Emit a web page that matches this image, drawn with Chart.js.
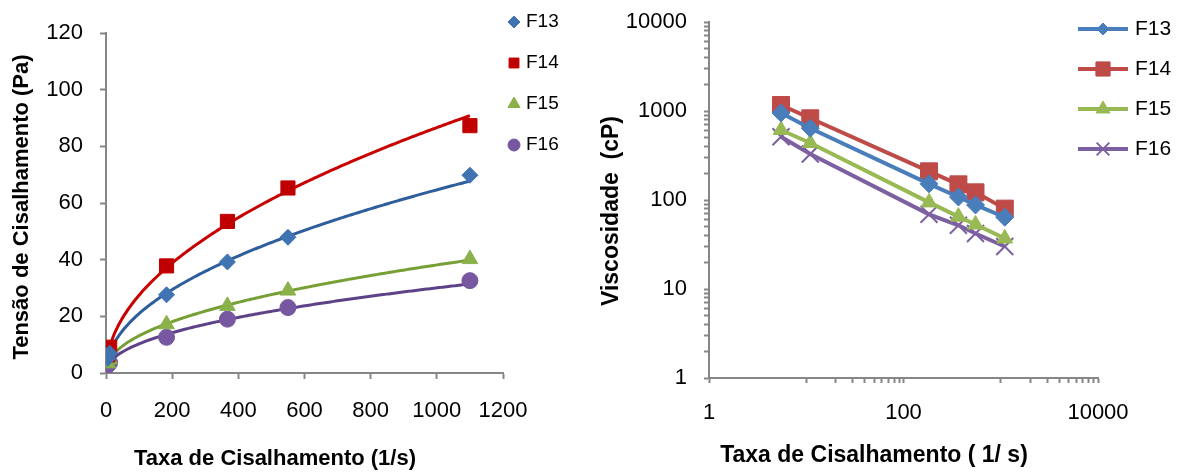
<!DOCTYPE html>
<html>
<head>
<meta charset="utf-8">
<script src="https://cdn.jsdelivr.net/npm/chart.js@4.4.1/dist/chart.umd.min.js"></script>
<style>
  html, body { margin: 0; padding: 0; background: #fff; }
  #wrap { position: relative; width: 1180px; height: 473px; }
  #graph1 { position: absolute; left: 0; top: 0; }
  #graph2 { position: absolute; left: 590px; top: 0; }
</style>
</head>
<body>
<div id="wrap">
  <canvas id="graph1" width="590" height="473"></canvas>
  <canvas id="graph2" width="590" height="473"></canvas>
</div>
<script>
// dados: taxa de cisalhamento (1/s), tensao (Pa), viscosidade (cP)
const nomes = ['F13', 'F14', 'F15', 'F16'];
const taxa = [5.5, 11, 183, 367, 550, 1100];
const tensaoF13 = [5.2, 7.0, 27.6, 39.2, 47.9, 69.8];
const tensaoF14 = [6.4, 9.1, 37.8, 53.5, 65.3, 87.3];
const tensaoF15 = [3.4, 4.8, 17.2, 23.7, 29.1, 40.2];
const tensaoF16 = [2.8, 3.6, 12.6, 19.0, 23.1, 32.6];
const viscF13 = [950, 640, 152, 108, 88, 64];
const viscF14 = [1168, 828, 210, 150, 122, 80];
const viscF15 = [612, 437, 94, 65, 53, 37];
const viscF16 = [514, 329, 69, 52, 42, 30];
const ticksTaxa = [0, 200, 400, 600, 800, 1000, 1200];
const ticksTensao = [0, 20, 40, 60, 80, 100, 120];
const rotulosLogX = [1, 100, 10000];
const rotulosLogY = [1, 10, 100, 1000, 10000];

const tensoes = [tensaoF13, tensaoF14, tensaoF15, tensaoF16];
const viscosidades = [viscF13, viscF14, viscF15, viscF16];

const FONTE = '"Liberation Sans", Arial, sans-serif';
const CINZA = '#868686';

// linha de tendencia tipo potencia (y = a*x^b), minimos quadrados em ln-ln
function tendenciaPotencia(xs, ys) {
  const n = xs.length;
  const lx = xs.map(Math.log), ly = ys.map(Math.log);
  const mx = lx.reduce((a, b) => a + b, 0) / n;
  const my = ly.reduce((a, b) => a + b, 0) / n;
  let sxy = 0, sxx = 0;
  for (let i = 0; i < n; i++) {
    sxy += (lx[i] - mx) * (ly[i] - my);
    sxx += (lx[i] - mx) * (lx[i] - mx);
  }
  const b = sxy / sxx, a = Math.exp(my - b * mx);
  const x0 = Math.min(...xs), x1 = Math.max(...xs);
  const pts = [];
  for (let k = 0; k <= 200; k++) {
    const x = x0 + (x1 - x0) * k / 200;
    pts.push({ x: x, y: a * Math.pow(x, b) });
  }
  return pts;
}

// legenda e titulos dos eixos desenhados a mao
const decoracao = {
  id: 'decoracao',
  afterDraw(chart, args, opts) {
    const ctx = chart.ctx;
    const leg = opts.legenda;
    ctx.save();
    chart.data.datasets.slice(0, 4).forEach((ds, i) => {
      const y = leg.y + i * leg.dy;
      if (leg.linha) {
        ctx.strokeStyle = ds.borderColor;
        ctx.lineWidth = ds.borderWidth;
        ctx.beginPath();
        ctx.moveTo(leg.x - leg.linha, y);
        ctx.lineTo(leg.x + leg.linha, y);
        ctx.stroke();
      }
      ctx.fillStyle = ds.pointBackgroundColor;
      ctx.strokeStyle = ds.pointBorderColor;
      ctx.lineWidth = ds.pointBorderWidth;
      Chart.helpers.drawPoint(ctx, {
        pointStyle: ds.pointStyle, radius: leg.raios[i], rotation: 0,
        borderWidth: ds.pointBorderWidth
      }, leg.x, y);
      ctx.fillStyle = '#000';
      ctx.font = leg.fonte;
      ctx.textAlign = 'left';
      ctx.textBaseline = 'middle';
      ctx.fillText(ds.label, leg.xTexto, y);
    });
    ctx.font = opts.fonteTitulo;
    ctx.fillStyle = '#000';
    ctx.textAlign = 'center';
    ctx.textBaseline = 'alphabetic';
    opts.titulos.forEach(t => {
      ctx.save();
      ctx.translate(t.x, t.y);
      if (t.rot) ctx.rotate(-Math.PI / 2);
      ctx.fillText(t.texto, 0, 0);
      ctx.restore();
    });
    ctx.restore();
  }
};

// sem folga extra acima/abaixo do eixo y (o padding dos rotulos entra no calculo)
function semFolgaVertical(s) {
  s.paddingTop = 0;
  s.paddingBottom = 0;
}

// ---- grafico 1: tensao x taxa ----
const estiloEsq = [
  { cor: '#3F73B2', linha: '#2E5E9C', forma: 'rectRot', r: 8 },
  { cor: '#C00000', linha: '#C80000', forma: 'rect', r: 10 },
  { cor: '#8BB14B', linha: '#76A035', forma: 'triangle', r: 9 },
  { cor: '#7657A0', linha: '#5E4288', forma: 'circle', r: 8 }
];

const pontos = nomes.map((nome, i) => ({
  label: nome,
  data: taxa.map((x, j) => ({ x: x, y: tensoes[i][j] })),
  showLine: false,
  pointStyle: estiloEsq[i].forma,
  pointRadius: estiloEsq[i].r,
  pointBackgroundColor: estiloEsq[i].cor,
  pointBorderColor: estiloEsq[i].cor,
  pointBorderWidth: 1,
  borderColor: estiloEsq[i].cor,
  order: 1
}));
const tendencias = nomes.map((nome, i) => ({
  label: nome + ' tendência',
  data: tendenciaPotencia(taxa, tensoes[i]),
  showLine: true,
  pointRadius: 0,
  borderColor: estiloEsq[i].linha,
  borderWidth: 3,
  order: 2
}));

const eixoFonte = { family: FONTE, size: 22 };

new Chart(document.querySelector('#graph1'), {
  type: 'scatter',
  data: { datasets: pontos.concat(tendencias) },
  options: {
    responsive: false,
    animation: false,
    events: [],
    layout: { padding: { top: 33, right: 87, left: 0, bottom: 0 } },
    plugins: {
      legend: { display: false },
      tooltip: { enabled: false },
      decoracao: {
        legenda: { x: 514, xTexto: 526, y: 22, dy: 41, raios: [6, 7, 7, 6], fonte: '19px ' + FONTE },
        fonteTitulo: 'bold 22px ' + FONTE,
        titulos: [
          { texto: 'Tensão de Cisalhamento (Pa)', x: 28, y: 207, rot: true },
          { texto: 'Taxa de Cisalhamento (1/s)', x: 275, y: 465 }
        ]
      }
    },
    scales: {
      x: {
        type: 'linear', min: 0, max: 1200,
        afterBuildTicks: s => { s.ticks = ticksTaxa.map(v => ({ value: v })); },
        afterFit: s => { s.height = 100; },
        border: { color: CINZA, width: 2 },
        grid: { drawOnChartArea: false, tickLength: 6, tickColor: CINZA, tickWidth: 2 },
        ticks: { padding: 19, color: '#000', font: eixoFonte, maxRotation: 0, callback: v => String(v) }
      },
      y: {
        type: 'linear', min: 0, max: 120,
        afterBuildTicks: s => { s.ticks = ticksTensao.map(v => ({ value: v })); },
        afterFit: s => { s.width = 106; semFolgaVertical(s); },
        border: { color: CINZA, width: 2 },
        grid: { drawOnChartArea: false, tickLength: 6, tickColor: CINZA, tickWidth: 2 },
        ticks: { padding: 17, color: '#000', font: eixoFonte, callback: v => String(v) }
      }
    }
  },
  plugins: [decoracao]
});

// ---- grafico 2: viscosidade x taxa (log-log) ----
const estiloDir = [
  { cor: '#4A7EBB', forma: 'rectRot', r: 9, borda: 1 },
  { cor: '#BE4B48', forma: 'rect', r: 12, borda: 1 },
  { cor: '#98B954', forma: 'triangle', r: 9, borda: 1 },
  { cor: '#7D60A0', forma: 'crossRot', r: 12, borda: 2 }
];

const series = nomes.map((nome, i) => ({
  label: nome,
  data: taxa.map((x, j) => ({ x: x, y: viscosidades[i][j] })),
  showLine: true,
  borderColor: estiloDir[i].cor,
  borderWidth: 4,
  pointStyle: estiloDir[i].forma,
  pointRadius: estiloDir[i].r,
  pointBackgroundColor: estiloDir[i].cor,
  pointBorderColor: estiloDir[i].cor,
  pointBorderWidth: estiloDir[i].borda
}));

// marcas do eixo log: decadas com subdivisoes
function marcasLog(decadas, comMenores) {
  const out = [];
  decadas.forEach((d, k) => {
    out.push({ value: d, major: true });
    if (k < decadas.length - 1 && comMenores(d)) {
      for (let m = 2; m <= 9; m++) out.push({ value: d * m, major: false });
    }
  });
  return out;
}
const decadas = [1, 10, 100, 1000, 10000];

new Chart(document.querySelector('#graph2'), {
  type: 'scatter',
  data: { datasets: series },
  options: {
    responsive: false,
    animation: false,
    events: [],
    layout: { padding: { top: 22, right: 82, left: 0, bottom: 0 } },
    plugins: {
      legend: { display: false },
      tooltip: { enabled: false },
      decoracao: {
        legenda: { x: 513, xTexto: 545, y: 29, dy: 40, linha: 25, raios: [6, 10, 8, 9], fonte: '21px ' + FONTE },
        fonteTitulo: 'bold 23px ' + FONTE,
        titulos: [
          { texto: 'Viscosidade  (cP)', x: 28, y: 211, rot: true },
          { texto: 'Taxa de Cisalhamento ( 1/ s)', x: 284, y: 462 }
        ]
      }
    },
    scales: {
      x: {
        type: 'logarithmic', min: 1, max: 10000,
        afterBuildTicks: s => { s.ticks = marcasLog(decadas, d => d === 10 || d === 1000); },
        afterFit: s => { s.height = 95; },
        border: { color: CINZA, width: 2 },
        grid: { drawOnChartArea: false, tickLength: 5, tickColor: CINZA, tickWidth: 2 },
        ticks: {
          padding: 17, color: '#000', font: eixoFonte, maxRotation: 0, autoSkip: false,
          callback: v => rotulosLogX.includes(v) ? String(v) : ''
        }
      },
      y: {
        type: 'logarithmic', min: 1, max: 10000,
        afterBuildTicks: s => { s.ticks = marcasLog(decadas, () => true); },
        afterFit: s => { s.width = 119; semFolgaVertical(s); },
        border: { color: CINZA, width: 2 },
        grid: { drawOnChartArea: false, tickLength: 5, tickColor: CINZA, tickWidth: 2 },
        ticks: {
          padding: 17, color: '#000', font: eixoFonte, autoSkip: false,
          callback: v => rotulosLogY.includes(v) ? String(v) : ''
        }
      }
    }
  },
  plugins: [decoracao]
});
</script>
</body>
</html>
